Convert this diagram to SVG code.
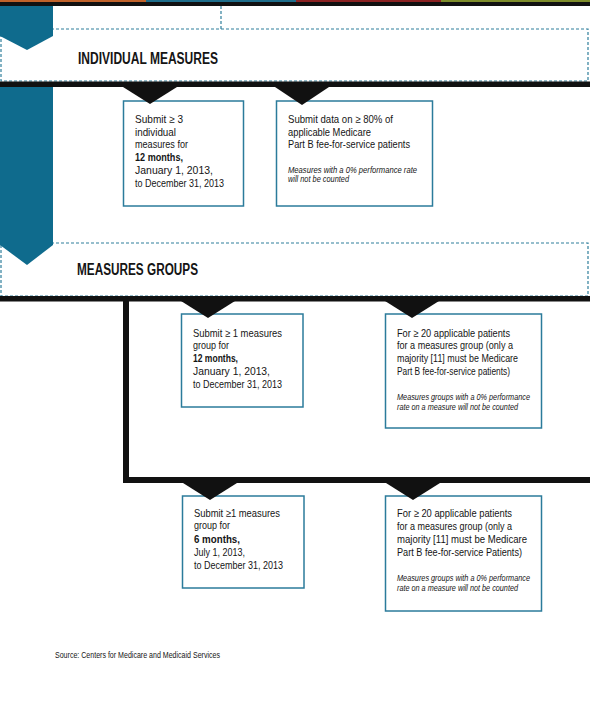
<svg xmlns="http://www.w3.org/2000/svg" width="590" height="713" viewBox="0 0 590 713">
<style>
.bg{fill:#ffffff}
.teal{fill:#0f6b8d}
.dash{fill:none;stroke:#2f7f9c;stroke-width:1.2;stroke-dasharray:3,2}
.bar{fill:#111111}
.box{fill:#ffffff;stroke:#2b7b9b;stroke-width:1.5}
.hd{font-family:"Liberation Sans",Arial,sans-serif;font-weight:bold;font-size:16px;fill:#151515}
.t{font-family:"Liberation Sans",Arial,sans-serif;font-size:11px;fill:#151515}
.b{font-weight:bold}
.i{font-family:"Liberation Sans",Arial,sans-serif;font-style:italic;font-size:8.5px;fill:#151515}
.src{font-family:"Liberation Sans",Arial,sans-serif;font-size:9px;fill:#151515}
</style>
<rect class="bg" x="0" y="0" width="590" height="713"/>
<g id="top-stripe">
<rect x="0" y="0" width="146" height="2" fill="#c0622a"/>
<rect x="146" y="0" width="150" height="2" fill="#1e6d8a"/>
<rect x="296" y="0" width="145" height="2" fill="#8b2222"/>
<rect x="441" y="0" width="149" height="2" fill="#7d8c2a"/>
<rect class="bar" x="0" y="2" width="590" height="4"/>
</g>
<g id="section-individual">
<line class="dash" x1="221" y1="6" x2="221" y2="29"/>
<rect class="dash" x="1" y="29" width="587" height="52"/>
<polygon class="teal" points="0,6 53,6 53,36 27,50 0,36"/>
<text class="hd" x="78" y="64" textLength="140" lengthAdjust="spacingAndGlyphs">INDIVIDUAL MEASURES</text>
</g>
<g id="section-groups">
<rect class="dash" x="1" y="243" width="587" height="53"/>
<polygon class="teal" points="0,87 53,87 53,245 27,265 0,245"/>
<text class="hd" x="77" y="275" textLength="121" lengthAdjust="spacingAndGlyphs">MEASURES GROUPS</text>
</g>
<g id="box1">
<rect class="box" x="123.5" y="101" width="120" height="105"/>
<text class="t" x="135" y="123" textLength="48" lengthAdjust="spacingAndGlyphs">Submit ≥ 3</text>
<text class="t" x="135" y="136" textLength="41" lengthAdjust="spacingAndGlyphs">individual</text>
<text class="t" x="135" y="148" textLength="53" lengthAdjust="spacingAndGlyphs">measures for</text>
<text class="t b" x="135" y="161" textLength="48" lengthAdjust="spacingAndGlyphs">12 months,</text>
<text class="t" x="135" y="174" textLength="78" lengthAdjust="spacingAndGlyphs">January 1, 2013,</text>
<text class="t" x="135" y="187" textLength="89" lengthAdjust="spacingAndGlyphs">to December 31, 2013</text>
</g>
<g id="box2">
<rect class="box" x="276.5" y="101" width="156" height="105"/>
<text class="t" x="288" y="123" textLength="105" lengthAdjust="spacingAndGlyphs">Submit data on ≥ 80% of</text>
<text class="t" x="288" y="136" textLength="83" lengthAdjust="spacingAndGlyphs">applicable Medicare</text>
<text class="t" x="288" y="148" textLength="122" lengthAdjust="spacingAndGlyphs">Part B fee-for-service patients</text>
<text class="i" x="288" y="173" textLength="129" lengthAdjust="spacingAndGlyphs">Measures with a 0% performance rate</text>
<text class="i" x="288" y="182" textLength="61" lengthAdjust="spacingAndGlyphs">will not be counted</text>
</g>
<g id="box3">
<rect class="box" x="181.5" y="314" width="121.5" height="93"/>
<text class="t" x="193" y="337" textLength="89" lengthAdjust="spacingAndGlyphs">Submit ≥ 1 measures</text>
<text class="t" x="193" y="349" textLength="36" lengthAdjust="spacingAndGlyphs">group for</text>
<text class="t b" x="193" y="362" textLength="45" lengthAdjust="spacingAndGlyphs">12 months,</text>
<text class="t" x="193" y="375" textLength="77" lengthAdjust="spacingAndGlyphs">January 1, 2013,</text>
<text class="t" x="193" y="388" textLength="89" lengthAdjust="spacingAndGlyphs">to December 31, 2013</text>
</g>
<g id="box4">
<rect class="box" x="385.5" y="314" width="156" height="114"/>
<text class="t" x="397" y="337" textLength="113" lengthAdjust="spacingAndGlyphs">For ≥ 20 applicable patients</text>
<text class="t" x="397" y="349" textLength="116" lengthAdjust="spacingAndGlyphs">for a measures group (only a</text>
<text class="t" x="397" y="362" textLength="121" lengthAdjust="spacingAndGlyphs">majority [11] must be Medicare</text>
<text class="t" x="397" y="375" textLength="113" lengthAdjust="spacingAndGlyphs">Part B fee-for-service patients)</text>
<text class="i" x="397" y="400" textLength="133" lengthAdjust="spacingAndGlyphs">Measures groups with a 0% performance</text>
<text class="i" x="397" y="410" textLength="121" lengthAdjust="spacingAndGlyphs">rate on a measure will not be counted</text>
</g>
<g id="box5">
<rect class="box" x="182.5" y="496" width="121.5" height="92"/>
<text class="t" x="194" y="517" textLength="86" lengthAdjust="spacingAndGlyphs">Submit ≥1 measures</text>
<text class="t" x="194" y="529" textLength="36" lengthAdjust="spacingAndGlyphs">group for</text>
<text class="t b" x="194" y="543" textLength="46" lengthAdjust="spacingAndGlyphs">6 months,</text>
<text class="t" x="194" y="556" textLength="51" lengthAdjust="spacingAndGlyphs">July 1, 2013,</text>
<text class="t" x="194" y="569" textLength="89" lengthAdjust="spacingAndGlyphs">to December 31, 2013</text>
</g>
<g id="box6">
<rect class="box" x="385.5" y="496" width="156" height="115"/>
<text class="t" x="397" y="517" textLength="115" lengthAdjust="spacingAndGlyphs">For ≥ 20 applicable patients</text>
<text class="t" x="397" y="530" textLength="115" lengthAdjust="spacingAndGlyphs">for a measures group (only a</text>
<text class="t" x="397" y="543" textLength="130" lengthAdjust="spacingAndGlyphs">majority [11] must be Medicare</text>
<text class="t" x="397" y="556" textLength="125" lengthAdjust="spacingAndGlyphs">Part B fee-for-service Patients)</text>
<text class="i" x="397" y="581" textLength="133" lengthAdjust="spacingAndGlyphs">Measures groups with a 0% performance</text>
<text class="i" x="397" y="591" textLength="121" lengthAdjust="spacingAndGlyphs">rate on a measure will not be counted</text>
</g>
<g id="connectors">
<rect class="bar" x="0" y="81.5" width="590" height="5.5"/>
<rect class="bar" x="0" y="296" width="590" height="5.5"/>
<rect class="bar" x="123" y="296" width="6" height="187"/>
<rect class="bar" x="123" y="477" width="467" height="6"/>
<polygon class="bar" points="123,87 177,87 150,104"/>
<polygon class="bar" points="275,87 329,87 302,105"/>
<polygon class="bar" points="181,301 235,301 208,318"/>
<polygon class="bar" points="385,301 439,301 412,318"/>
<polygon class="bar" points="183,483 237,483 210,500"/>
<polygon class="bar" points="386,483 440,483 413,500"/>
</g>
<text class="src" x="55" y="658" textLength="165" lengthAdjust="spacingAndGlyphs">Source: Centers for Medicare and Medicaid Services</text>
</svg>
